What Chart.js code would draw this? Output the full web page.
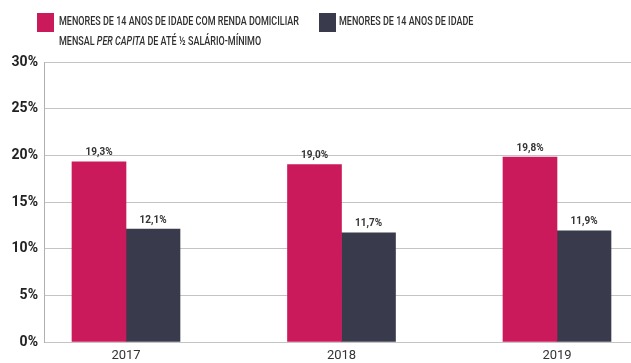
<!DOCTYPE html>
<html>
<head>
<meta charset="utf-8">
<script src="https://cdn.jsdelivr.net/npm/chart.js@4"></script>
<style>
  body { margin: 0; background: #fff; }
  #wrap { position: relative; width: 631px; height: 363px; overflow: hidden; }
  .legend { position: absolute; font-family: "Roboto", sans-serif; font-weight: 500; font-size: 12.5px; color: #2e2e2e; line-height: 20px; white-space: nowrap; transform: scaleX(0.72); transform-origin: 0 0; }
  .sw { position: absolute; width: 17px; height: 19px; }
</style>
</head>
<body>
<div id="wrap">
  <canvas id="chart" width="631" height="363"></canvas>
  <div class="sw" style="left:37px;top:13px;background:#CB1A5B"></div>
  <div class="legend" style="left:59px;top:11px;">MENORES DE 14 ANOS DE IDADE COM RENDA DOMICILIAR<br>MENSAL <i>PER CAPITA</i> DE ATÉ ½ SALÁRIO-MÍNIMO</div>
  <div class="sw" style="left:319px;top:13px;background:#393B4D"></div>
  <div class="legend" style="left:339px;top:11px;">MENORES DE 14 ANOS DE IDADE</div>
</div>
<script>
// years on the x axis, values in %
const years = ['2017', '2018', '2019'];
const lowIncome = [19.3, 19.0, 19.8];
const allChildren = [12.1, 11.7, 11.9];
const yTicks = [0, 5, 10, 15, 20, 25, 30];

const FONT = '"Roboto", sans-serif';

// draws the value above each bar, with a comma decimal
const valueLabels = {
  id: 'valueLabels',
  afterDatasetsDraw(chart) {
    const ctx = chart.ctx;
    ctx.save();
    ctx.font = 'bold 10px ' + FONT;
    ctx.fillStyle = '#333';
    ctx.textAlign = 'center';
    ctx.textBaseline = 'bottom';
    chart.data.datasets.forEach((ds, i) => {
      chart.getDatasetMeta(i).data.forEach((bar, j) => {
        const txt = ds.data[j].y.toFixed(1).replace('.', ',') + '%';
        ctx.fillText(txt, bar.x, bar.y - 4);
      });
    });
    ctx.restore();
  }
};

new Chart(document.getElementById('chart'), {
  type: 'bar',
  data: {
    datasets: [
      {
        label: 'Menores de 14 anos com renda até 1/2 SM',
        data: lowIncome.map((v, i) => ({ x: i, y: v })),
        backgroundColor: '#CB1A5B'
      },
      {
        label: 'Menores de 14 anos',
        data: allChildren.map((v, i) => ({ x: i, y: v })),
        backgroundColor: '#393B4D'
      }
    ]
  },
  options: {
    responsive: false,
    animation: false,
    barThickness: 54,
    layout: { padding: { top: 62, right: 0, left: 0, bottom: 0 } },
    plugins: { legend: { display: false }, tooltip: { enabled: false } },
    scales: {
      x: {
        type: 'linear',
        offset: false,
        min: -0.3805,
        max: 2.3434,
        afterBuildTicks: (axis) => { axis.ticks = years.map((_, i) => ({ value: i })); },
        afterFit: (axis) => { axis.height = 21; },
        grid: { display: false, drawTicks: false },
        border: { display: false },
        ticks: {
          padding: 6,
          color: '#333',
          font: { family: FONT, size: 13 },
          callback: (v) => years[v]
        }
      },
      y: {
        min: 0,
        max: 30,
        afterBuildTicks: (axis) => { axis.ticks = yTicks.map(v => ({ value: v })); },
        afterFit: (axis) => { axis.width = 44; },
        grid: { color: '#c4c4c4', drawTicks: false },
        border: { display: true, color: '#b0b0b0' },
        ticks: {
          padding: 6,
          color: '#222',
          font: { family: FONT, size: 14, weight: 'bold' },
          callback: (v) => v + '%'
        }
      }
    }
  },
  plugins: [valueLabels]
});
</script>
</body>
</html>
